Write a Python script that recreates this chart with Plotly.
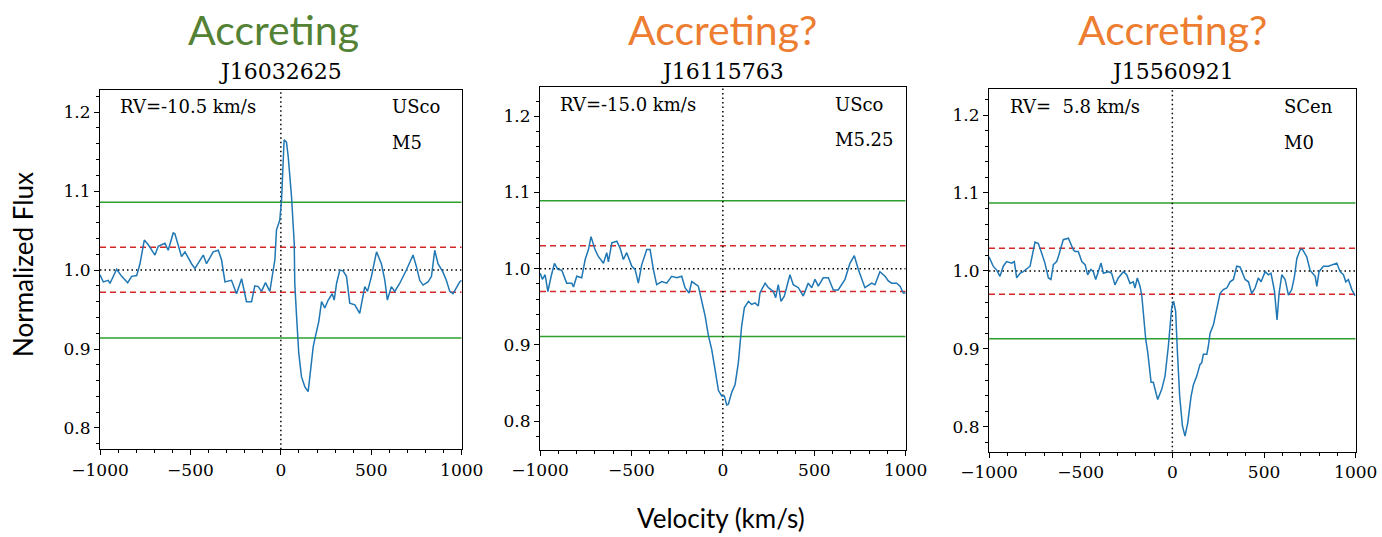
import plotly.graph_objects as go

# ---------------- data ----------------
v1 = [-1000, -982, -954, -945, -908, -880, -847, -825, -797, -779, -755, -733, -696, -678, -641, -623,
      -595, -586, -549, -530, -494, -475, -429, -411, -374, -346, -328, -309, -273, -245, -217, -190,
      -162, -144, -125, -107, -85, -61, -33, -24, -6, 4, 18, 31, 41, 59, 74, 77, 87, 99, 114, 133, 151,
      166, 179, 197, 210, 225, 243, 262, 284, 295, 308, 326, 344, 363, 381, 409, 436, 464, 479, 501,
      529, 556, 575, 589, 611, 630, 657, 694, 713, 731, 750, 768, 786, 814, 833, 851, 869, 897, 915,
      934, 952, 971, 989, 1000]
f1 = [0.994, 0.985, 0.987, 0.983, 1.001, 0.992, 0.984, 0.992, 0.993, 1.008, 1.038, 1.032, 1.019, 1.030,
      1.034, 1.025, 1.047, 1.046, 1.017, 1.023, 1.008, 1.002, 1.019, 1.008, 1.023, 1.025, 1.013, 0.985,
      0.987, 0.970, 0.989, 0.960, 0.960, 0.980, 0.979, 0.973, 0.984, 0.973, 1.013, 1.051, 1.063, 1.089,
      1.165, 1.162, 1.143, 1.093, 1.034, 0.983, 0.941, 0.895, 0.865, 0.852, 0.846, 0.878, 0.903, 0.922,
      0.935, 0.960, 0.952, 0.962, 0.970, 0.962, 0.983, 1.000, 0.999, 0.992, 0.958, 0.956, 0.945, 0.979,
      0.973, 0.992, 1.023, 1.008, 0.987, 0.962, 0.979, 0.973, 0.983, 1.000, 1.011, 1.019, 1.004, 0.987,
      0.981, 0.985, 0.992, 1.025, 1.008, 0.997, 0.987, 0.973, 0.970, 0.977, 0.985, 0.987]

v2 = [-999, -987, -972, -957, -939, -921, -903, -881, -854, -826, -817, -799, -772, -753, -735, -721,
      -699, -681, -653, -635, -626, -607, -580, -562, -544, -526, -498, -480, -462, -444, -416, -398,
      -380, -362, -334, -307, -280, -252, -225, -207, -185, -170, -134, -116, -97, -79, -61, -43, -24,
      -6, 8, 21, 30, 49, 67, 85, 103, 118, 140, 158, 176, 194, 203, 231, 249, 276, 289, 303, 318, 336,
      349, 367, 385, 413, 440, 467, 486, 504, 522, 549, 577, 604, 631, 668, 695, 719, 741, 777, 814,
      832, 859, 887, 905, 923, 951, 969, 987, 1000]
f2 = [0.994, 0.986, 0.992, 0.970, 0.990, 1.007, 0.999, 0.998, 0.981, 0.981, 0.976, 0.990, 0.988, 1.012,
      1.025, 1.042, 1.025, 1.016, 1.007, 1.021, 1.009, 1.034, 1.036, 1.027, 1.012, 1.021, 1.003, 0.999,
      0.981, 1.005, 1.025, 1.025, 0.999, 0.979, 0.983, 0.981, 0.990, 0.988, 0.990, 0.975, 0.968, 0.983,
      0.977, 0.959, 0.938, 0.912, 0.894, 0.868, 0.840, 0.833, 0.833, 0.821, 0.822, 0.838, 0.848, 0.877,
      0.925, 0.949, 0.957, 0.953, 0.955, 0.951, 0.968, 0.981, 0.975, 0.970, 0.962, 0.979, 0.957, 0.964,
      0.975, 0.992, 0.979, 0.975, 0.964, 0.981, 0.975, 0.986, 0.977, 0.988, 0.988, 0.972, 0.972, 0.986,
      1.007, 1.017, 0.999, 0.975, 0.981, 0.979, 0.996, 0.990, 0.984, 0.981, 0.981, 0.977, 0.968, 0.968]

v3 = [-1000, -977, -958, -940, -922, -904, -876, -862, -849, -831, -813, -795, -776, -749, -731, -713,
      -695, -676, -662, -649, -631, -622, -595, -567, -549, -540, -531, -513, -494, -476, -462, -444,
      -431, -418, -404, -389, -376, -349, -331, -313, -295, -267, -249, -231, -213, -204, -191, -176,
      -167, -158, -145, -134, -116, -104, -80, -58, -40, -22, -3, 7, 18, 27, 40, 55, 69, 84, 102, 115,
      133, 151, 160, 169, 188, 196, 206, 224, 242, 260, 278, 297, 315, 333, 351, 369, 397, 415, 433,
      451, 469, 484, 506, 524, 538, 557, 571, 582, 597, 615, 633, 651, 666, 679, 697, 709, 733, 751,
      779, 788, 800, 824, 851, 897, 915, 933, 946, 960, 979, 997]
f3 = [1.018, 1.006, 1.001, 0.993, 1.006, 1.012, 1.010, 1.012, 0.991, 0.997, 0.999, 1.003, 1.006, 1.037,
      1.035, 1.023, 1.010, 0.991, 0.989, 1.008, 1.012, 1.018, 1.040, 1.042, 1.031, 1.027, 1.025, 1.025,
      1.012, 1.008, 0.995, 1.002, 0.999, 0.989, 0.999, 1.010, 0.997, 0.999, 0.997, 0.982, 0.991, 0.999,
      0.995, 0.984, 0.986, 0.978, 0.991, 0.980, 0.969, 0.942, 0.912, 0.895, 0.857, 0.857, 0.835, 0.848,
      0.865, 0.903, 0.954, 0.961, 0.948, 0.899, 0.839, 0.801, 0.788, 0.805, 0.839, 0.854, 0.865, 0.880,
      0.882, 0.893, 0.893, 0.903, 0.920, 0.931, 0.950, 0.971, 0.976, 0.978, 0.986, 0.989, 1.006, 1.005,
      0.989, 0.986, 0.971, 0.978, 0.991, 0.986, 0.999, 0.995, 0.997, 0.974, 0.937, 0.971, 0.995, 0.989,
      0.969, 0.976, 0.993, 1.016, 1.027, 1.028, 1.018, 1.001, 0.993, 0.980, 0.999, 1.006, 1.006, 1.010,
      0.999, 0.995, 0.986, 0.989, 0.976, 0.968]

velocities = [v1, v2, v3]
fluxes = [f1, f2, f3]

names = ["J16032625", "J16115763", "J15560921"]
status = ["Accreting", "Accreting?", "Accreting?"]
rv_labels = ["RV=-10.5 km/s", "RV=-15.0 km/s", "RV=  5.8 km/s"]
regions = ["USco", "USco", "SCen"]
spectypes = ["M5", "M5.25", "M0"]
green_levels = [[1.086, 0.914], [1.089, 0.911], [1.087, 0.913]]
red_levels = [[1.029, 0.972], [1.030, 0.970], [1.029, 0.970]]
y_ranges = [[0.773, 1.228], [0.762, 1.238], [0.768, 1.233]]
x_range = [-1000, 1000]
x_ticks = [-1000, -500, 0, 500, 1000]
y_ticks = [0.8, 0.9, 1.0, 1.1, 1.2]

# ---------------- layout geometry (pixels) ----------------
W, H = 1382, 537
px_x = [(100, 461.7), (540, 905.7), (989, 1355.7)]
px_y = [(90, 449.3), (87.3, 450), (89.3, 451.7)]
status_col = ["#548235", "#ED7D31", "#ED7D31"]
serif = "DejaVu Serif"
sans = "Lato"

fig = go.Figure()
layout = dict(
    width=W, height=H, margin=dict(l=0, r=0, t=0, b=0, autoexpand=False),
    paper_bgcolor="white", plot_bgcolor="white", showlegend=False,
)
annotations = []
for i in range(3):
    s = "" if i == 0 else str(i + 1)
    xa, ya = "x" + s, "y" + s
    x0, x1 = px_x[i]
    yt, yb = px_y[i]
    layout["xaxis" + s] = dict(
        domain=[x0 / W, x1 / W], range=x_range, anchor=ya, automargin=False,
        tickvals=x_ticks, ticks="outside", ticklen=5, tickwidth=1, tickcolor="black",
        showline=True, linecolor="black", linewidth=1, mirror=True,
        showgrid=False, zeroline=False,
        tickfont=dict(family=serif, size=17, color="black"),
        minor=dict(dtick=100, ticks="outside", ticklen=3, tickcolor="black", showgrid=False),
    )
    layout["yaxis" + s] = dict(
        domain=[(H - yb) / H, (H - yt) / H], range=y_ranges[i], anchor=xa, automargin=False,
        tickvals=y_ticks, ticktext=[f"{t:.1f}" for t in y_ticks],
        ticks="outside", ticklen=5, tickwidth=1, tickcolor="black",
        showline=True, linecolor="black", linewidth=1, mirror=True,
        showgrid=False, zeroline=False,
        tickfont=dict(family=serif, size=17, color="black"),
        minor=dict(dtick=0.02, tick0=0.8, ticks="outside", ticklen=3, tickcolor="black", showgrid=False),
    )
    for lv in green_levels[i]:
        fig.add_trace(go.Scatter(x=x_range, y=[lv, lv], mode="lines", xaxis=xa, yaxis=ya,
                                 line=dict(color="#2ca02c", width=1.5)))
    for lv in red_levels[i]:
        fig.add_trace(go.Scatter(x=x_range, y=[lv, lv], mode="lines", xaxis=xa, yaxis=ya,
                                 line=dict(color="#d62728", width=1.5, dash="6px,4px")))
    fig.add_trace(go.Scatter(x=x_range, y=[1.0, 1.0], mode="lines", xaxis=xa, yaxis=ya,
                             line=dict(color="black", width=1.5, dash="1.5px,3px")))
    fig.add_trace(go.Scatter(x=[0, 0], y=y_ranges[i], mode="lines", xaxis=xa, yaxis=ya,
                             line=dict(color="black", width=1.5, dash="1.5px,3px")))
    fig.add_trace(go.Scatter(x=velocities[i], y=fluxes[i], mode="lines", xaxis=xa, yaxis=ya,
                             line=dict(color="#1f77b4", width=1.5)))

    xc = (x0 + x1) / 2
    annotations.append(dict(text=names[i], x=xc / W, y=1 - 71 / H, xref="paper", yref="paper",
                            showarrow=False, xanchor="center", yanchor="middle",
                            font=dict(family=serif, size=22, color="black")))
    annotations.append(dict(text=status[i], x=(xc - 7 if i == 0 else xc) / W, y=1 - 29 / H,
                            xref="paper", yref="paper",
                            showarrow=False, xanchor="center", yanchor="middle",
                            font=dict(family=sans, size=41, color=status_col[i])))
    rvx = [118, 558, 1008][i]
    rvy = [106, 104, 106][i]
    annotations.append(dict(text=rv_labels[i], x=rvx / W, y=1 - rvy / H, xref="paper", yref="paper",
                            showarrow=False, xanchor="left", yanchor="middle",
                            font=dict(family=serif, size=18, color="black")))
    rx = [390, 833, 1282][i]
    annotations.append(dict(text=regions[i], x=rx / W, y=1 - rvy / H, xref="paper", yref="paper",
                            showarrow=False, xanchor="left", yanchor="middle",
                            font=dict(family=serif, size=18, color="black")))
    annotations.append(dict(text=spectypes[i], x=rx / W, y=1 - (rvy + 36) / H, xref="paper", yref="paper",
                            showarrow=False, xanchor="left", yanchor="middle",
                            font=dict(family=serif, size=18, color="black")))

annotations.append(dict(text="Normalized Flux", x=23 / W, y=1 - 265 / H, xref="paper", yref="paper",
                        showarrow=False, textangle=-90, xanchor="center", yanchor="middle",
                        font=dict(family=sans, size=26, color="black")))
annotations.append(dict(text="Velocity (km/s)", x=721 / W, y=1 - 518 / H, xref="paper", yref="paper",
                        showarrow=False, xanchor="center", yanchor="middle",
                        font=dict(family=sans, size=26, color="black")))
layout["annotations"] = annotations
fig.update_layout(**layout)
fig.write_html("out.html")
